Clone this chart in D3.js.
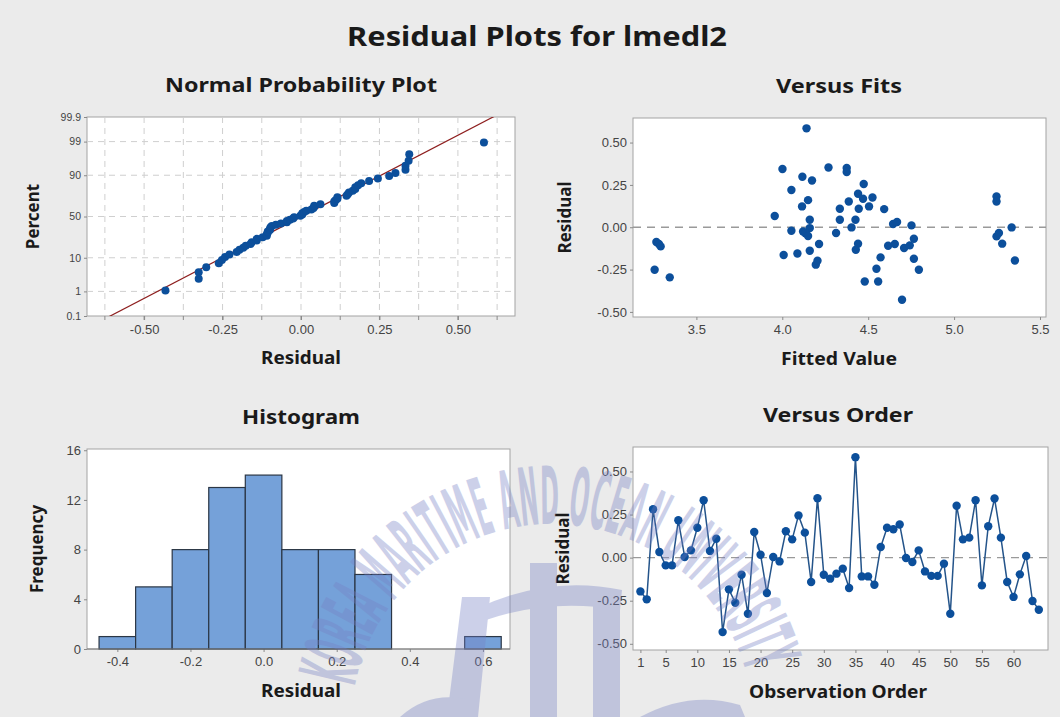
<!DOCTYPE html>
<html>
<head>
<meta charset="utf-8">
<script src="https://cdn.jsdelivr.net/npm/d3@7"></script>
<style>
  body { margin: 0; background: #ebebeb; }
  svg { display: block; font-family: "Noto Sans", "DejaVu Sans", sans-serif; }
  .tick text { fill: #444; font-size: 13px; }
  .tick line { stroke: #8a8a8a; }
  .ttl { font-weight: bold; fill: #1a1a1a; text-anchor: middle; }
</style>
</head>
<body>
<svg id="chart" width="1060" height="717"></svg>
<script>
// residuals in observation order (1..64)
const residuals = [
  -0.196, -0.242, 0.281, 0.033, -0.045, -0.045, 0.217, 0.004, 0.042, 0.173,
  0.333, 0.039, 0.110, -0.432, -0.184, -0.262, -0.099, -0.326, 0.149, 0.017,
  -0.205, 0.004, -0.022, 0.153, 0.106, 0.245, 0.145, -0.141, 0.345, -0.099,
  -0.122, -0.093, -0.064, -0.176, 0.583, -0.109, -0.109, -0.157, 0.062, 0.173,
  0.165, 0.192, -0.002, -0.025, 0.042, -0.080, -0.106, -0.106, -0.035, -0.326,
  0.301, 0.106, 0.116, 0.333, -0.161, 0.182, 0.343, 0.116, -0.141, -0.228,
  -0.097, 0.010, -0.252, -0.302
];

// versus fits: fitted value and residual for each point
const fittedValues = [
  3.257, 3.267, 3.282, 3.292, 3.345, 3.956, 4.001, 4.008, 4.053, 4.053,
  4.088, 4.117, 4.115, 4.150, 4.141, 4.160, 4.160, 4.173, 4.121, 4.135,
  4.150, 4.160, 4.195, 4.205, 4.214, 4.269, 4.313, 4.335, 4.335, 4.375,
  4.375, 4.387, 4.403, 4.441, 4.474, 4.470, 4.445, 4.426, 4.441, 4.428,
  4.505, 4.525, 4.593, 4.480, 4.558, 4.548, 4.572, 4.616, 4.655, 4.645,
  4.668, 4.697, 4.709, 4.742, 4.752, 4.766, 4.766, 4.795, 5.247, 5.247,
  5.247, 5.261, 5.280, 5.335, 5.354
];
const fittedResiduals = [
  -0.251, -0.087, -0.099, -0.113, -0.296, 0.066, 0.344, -0.164, 0.220, -0.021,
  -0.155, 0.298, 0.123, 0.160, 0.584, 0.044, -0.005, 0.276, -0.025, -0.035,
  -0.052, -0.139, -0.221, -0.198, -0.099, 0.353, -0.034, 0.109, 0.044, 0.350,
  0.326, 0.152, -0.001, 0.198, 0.255, 0.168, 0.109, 0.044, -0.097, -0.133,
  0.123, 0.176, 0.107, -0.320, -0.320, -0.245, -0.178, -0.109, -0.099, 0.019,
  0.031, -0.428, -0.123, -0.107, 0.011, -0.068, -0.186, -0.251, 0.182, 0.152,
  -0.054, -0.034, -0.097, -0.001, -0.196
];

// histogram bins (centre, width 0.1) and counts
const histCenters = [-0.4, -0.3, -0.2, -0.1, 0.0, 0.1, 0.2, 0.3, 0.4, 0.5, 0.6];
const histCounts = [1, 5, 8, 13, 14, 8, 8, 6, 0, 0, 1];
const binWidth = 0.1;

const percentTicks = [0.1, 1, 10, 50, 90, 99, 99.9];
const percentGrid = [1, 10, 50, 90, 99];
const nppTicks = [-0.5, -0.25, 0, 0.25, 0.5];
const fitTicks = [3.5, 4.0, 4.5, 5.0, 5.5];
const histTicks = [-0.4, -0.2, 0, 0.2, 0.4, 0.6];
const freqTicks = [0, 4, 8, 12, 16];
const orderTicks = [1, 5, 10, 15, 20, 25, 30, 35, 40, 45, 50, 55, 60];
const resTicks = [-0.5, -0.25, 0, 0.25, 0.5];

const dotColor = "#0c4f9b";

// inverse of the normal cdf (Acklam's approximation)
function qnorm(p) {
    const a = [-39.69683028665376, 220.9460984245205, -275.9285104469687, 138.357751867269, -30.66479806614716, 2.506628277459239];
    const b = [-54.47609879822406, 161.5858368580409, -155.6989798598866, 66.80131188771972, -13.28068155288572];
    const c = [-0.007784894002430293, -0.3223964580411365, -2.400758277161838, -2.549732539343734, 4.374664141464968, 2.938163982698783];
    const d = [0.007784695709041462, 0.3224671290700398, 2.445134137142996, 3.754408661907416];
    const pl = 0.02425;
    let q, r;
    if (p < pl) {
        q = Math.sqrt(-2 * Math.log(p));
        return (((((c[0]*q+c[1])*q+c[2])*q+c[3])*q+c[4])*q+c[5]) / ((((d[0]*q+d[1])*q+d[2])*q+d[3])*q+1);
    }
    if (p > 1 - pl) {
        q = Math.sqrt(-2 * Math.log(1 - p));
        return -(((((c[0]*q+c[1])*q+c[2])*q+c[3])*q+c[4])*q+c[5]) / ((((d[0]*q+d[1])*q+d[2])*q+d[3])*q+1);
    }
    q = p - 0.5; r = q * q;
    return (((((a[0]*r+a[1])*r+a[2])*r+a[3])*r+a[4])*r+a[5])*q / (((((b[0]*r+b[1])*r+b[2])*r+b[3])*r+b[4])*r+1);
}

const svg = d3.select("#chart");
svg.append("rect").attr("width", 1060).attr("height", 717).attr("fill", "#ebebeb");

svg.append("text").attr("class", "ttl")
    .attr("x", 537).attr("y", 46)
    .attr("textLength", 380).attr("lengthAdjust", "spacingAndGlyphs")
    .style("font-size", "26px")
    .text("Residual Plots for lmedl2");

// one panel: frame, title, axis labels
const makePanel = (p) => {
    let g = svg.append("g").attr("transform", "translate(" + p.left + "," + p.top + ")");
    g.append("rect").attr("width", p.w).attr("height", p.h)
        .attr("fill", "#fff").attr("stroke", "#a3a3a3");
    g.append("clipPath").attr("id", p.id)
        .append("rect").attr("width", p.w).attr("height", p.h);
    svg.append("text").attr("class", "ttl")
        .attr("x", p.cx).attr("y", p.top - 25)
        .attr("textLength", p.tw).attr("lengthAdjust", "spacingAndGlyphs")
        .style("font-size", "20px").text(p.title);
    svg.append("text").attr("class", "ttl")
        .attr("x", p.cx).attr("y", p.top + p.h + 48)
        .attr("textLength", p.xw).attr("lengthAdjust", "spacingAndGlyphs")
        .style("font-size", "17px").text(p.xLabel);
    svg.append("text").attr("class", "ttl")
        .attr("transform", "translate(" + p.yx + "," + (p.top + p.h / 2) + ") rotate(-90)")
        .style("font-size", "17px").text(p.yLabel);
    return g;
}

const noDomain = (sel) => sel.select(".domain").remove();

// ---- Normal probability plot ----
{
    let w = 428, h = 199;
    let g = makePanel({ id: "c1", left: 87, top: 117, w, h, cx: 301,
        title: "Normal Probability Plot", tw: 272,
        xLabel: "Residual", xw: 80, yLabel: "Percent", yx: 39 });
    let x = d3.scaleLinear().domain([-0.682, 0.682]).range([0, w]);
    let z = d3.scaleLinear().domain([qnorm(0.001), qnorm(0.999)]).range([h, 0]);
    let y = (pc) => z(qnorm(pc / 100));
    let minor = d3.range(-5, 6).map(k => k * 0.125);

    g.selectAll(".vg").data(minor).enter().append("line")
        .attr("x1", d => x(d)).attr("x2", d => x(d)).attr("y1", 0).attr("y2", h)
        .attr("stroke", "#cfcfcf").attr("stroke-dasharray", "6,5");
    g.selectAll(".hg").data(percentGrid).enter().append("line")
        .attr("x1", 0).attr("x2", w).attr("y1", d => y(d)).attr("y2", d => y(d))
        .attr("stroke", "#cfcfcf").attr("stroke-dasharray", "6,5");

    g.append("g").attr("transform", "translate(0," + h + ")")
        .call(d3.axisBottom(x).tickValues(nppTicks).tickSize(4).tickPadding(5)
            .tickFormat(d => d.toFixed(2)))
        .call(noDomain);
    g.selectAll(".mt").data(minor).enter().append("line")
        .attr("x1", d => x(d)).attr("x2", d => x(d)).attr("y1", h).attr("y2", h + 4)
        .attr("stroke", "#8a8a8a");

    let py = d3.scaleLinear().domain([0, h]).range([0, h]);
    g.append("g")
        .call(d3.axisLeft(py).tickValues(percentTicks.map(y)).tickSize(3).tickPadding(3)
            .tickFormat((d, i) => String(percentTicks[i])))
        .call(noDomain)
        .selectAll("text").style("font-size", "10.5px");

    let n = residuals.length;
    let sorted = residuals.slice().sort(d3.ascending);
    let pts = sorted.map((r, i) => ({ r: r, p: (i + 1 - 0.3) / (n + 0.4) * 100 }));
    let mean = d3.mean(residuals), sd = d3.deviation(residuals);

    g.append("g").attr("clip-path", "url(#c1)")
        .append("line")
        .attr("x1", x(mean + sd * -3.4)).attr("y1", z(-3.4))
        .attr("x2", x(mean + sd * 3.4)).attr("y2", z(3.4))
        .attr("stroke", "#8e1f1f").attr("stroke-width", 1.2);

    g.selectAll(".pt").data(pts).enter().append("circle")
        .attr("cx", d => x(d.r)).attr("cy", d => y(d.p)).attr("r", 4)
        .attr("fill", dotColor);
}

// ---- Versus fits ----
{
    let w = 413, h = 199;
    let g = makePanel({ id: "c2", left: 633, top: 118, w, h, cx: 839,
        title: "Versus Fits", tw: 126,
        xLabel: "Fitted Value", xw: 116, yLabel: "Residual", yx: 571 });
    let x = d3.scaleLinear().domain([3.131, 5.535]).range([0, w]);
    let y = d3.scaleLinear().domain([-0.53, 0.645]).range([h, 0]);

    g.append("g").attr("transform", "translate(0," + h + ")")
        .call(d3.axisBottom(x).tickValues(fitTicks).tickSize(3).tickPadding(5)
            .tickFormat(d => d.toFixed(1)))
        .call(noDomain);
    g.append("g")
        .call(d3.axisLeft(y).tickValues(resTicks).tickSize(3).tickPadding(3)
            .tickFormat(d => d.toFixed(2)))
        .call(noDomain);

    g.append("line").attr("x1", 0).attr("x2", w).attr("y1", y(0)).attr("y2", y(0))
        .attr("stroke", "#9a9a9a").attr("stroke-width", 1.3).attr("stroke-dasharray", "8,6");

    g.selectAll(".pt").data(fittedValues).enter().append("circle")
        .attr("cx", d => x(d)).attr("cy", (d, i) => y(fittedResiduals[i])).attr("r", 4.2)
        .attr("fill", dotColor);
}

// ---- Histogram ----
{
    let w = 423, h = 200;
    let g = makePanel({ id: "c3", left: 87, top: 449, w, h, cx: 301,
        title: "Histogram", tw: 118,
        xLabel: "Residual", xw: 80, yLabel: "Frequency", yx: 43 });
    let x = d3.scaleLinear().domain([-0.483, 0.674]).range([0, w]);
    let y = d3.scaleLinear().domain([0, 16.1]).range([h, 0]);

    g.append("g").attr("transform", "translate(0," + h + ")")
        .call(d3.axisBottom(x).tickValues(histTicks).tickSize(3).tickPadding(5)
            .tickFormat(d => d.toFixed(1)))
        .call(noDomain);
    g.append("g")
        .call(d3.axisLeft(y).tickValues(freqTicks).tickSize(3).tickPadding(3))
        .call(noDomain);

    let bins = histCounts.map((c, i) => ({ c: c, mid: histCenters[i] })).filter(b => b.c > 0);
    g.selectAll(".bar").data(bins).enter().append("rect")
        .attr("x", d => x(d.mid - binWidth / 2))
        .attr("width", d => x(d.mid + binWidth / 2) - x(d.mid - binWidth / 2))
        .attr("y", d => y(d.c)).attr("height", d => h - y(d.c))
        .attr("fill", "#75a1d9").attr("stroke", "#2b3645").attr("stroke-width", 1.2);
    g.append("line").attr("x1", 0).attr("x2", w).attr("y1", h).attr("y2", h).attr("stroke", "#7a7a7a");
}

// ---- Versus order ----
{
    let w = 415, h = 203;
    let g = makePanel({ id: "c4", left: 633, top: 447, w, h, cx: 838,
        title: "Versus Order", tw: 150,
        xLabel: "Observation Order", xw: 178, yLabel: "Residual", yx: 569 });
    let x = d3.scaleLinear().domain([-0.17, 65.45]).range([0, w]);
    let y = d3.scaleLinear().domain([-0.536, 0.642]).range([h, 0]);

    g.append("g").attr("transform", "translate(0," + h + ")")
        .call(d3.axisBottom(x).tickValues(orderTicks).tickSize(3).tickPadding(5))
        .call(noDomain);
    g.append("g")
        .call(d3.axisLeft(y).tickValues(resTicks).tickSize(3).tickPadding(3)
            .tickFormat(d => d.toFixed(2)))
        .call(noDomain);

    g.append("line").attr("x1", 0).attr("x2", w).attr("y1", y(0)).attr("y2", y(0))
        .attr("stroke", "#9a9a9a").attr("stroke-width", 1.3).attr("stroke-dasharray", "8,6");

    let line = d3.line().x((d, i) => x(i + 1)).y(d => y(d));
    g.append("path").datum(residuals)
        .attr("fill", "none").attr("stroke", "#24548a").attr("stroke-width", 1.5)
        .attr("d", line);
    g.selectAll(".pt").data(residuals).enter().append("circle")
        .attr("cx", (d, i) => x(i + 1)).attr("cy", d => y(d)).attr("r", 4.2)
        .attr("fill", dotColor);
}

// ---- faint watermark over the page ----
{
    let wm = svg.append("g").attr("fill", "#7580c4").attr("opacity", 0.36);
    let cx = 552, cy = 725, r = 201;
    let a0 = 191 * Math.PI / 180, a1 = 346 * Math.PI / 180;
    svg.append("defs").append("path").attr("id", "wmArc")
        .attr("d", "M" + (cx + r * Math.cos(a0)) + "," + (cy + r * Math.sin(a0)) +
            " A" + r + "," + r + " 0 0 1 " + (cx + r * Math.cos(a1)) + "," + (cy + r * Math.sin(a1)));
    wm.append("text")
        .style("font-family", "'Liberation Sans Narrow', 'DejaVu Sans Condensed', sans-serif")
        .style("font-weight", "bold").style("font-size", "80px")
        .append("textPath").attr("href", "#wmArc")
        .attr("textLength", 540).attr("lengthAdjust", "spacingAndGlyphs")
        .text("KOREA MARITIME AND OCEAN UNIVERSITY");
    // rough logo shapes
    wm.append("path").attr("d", "M447,717 L462,597 L490,597 L478,717 Z");
    wm.append("path").attr("d", "M480,607 Q550,575 622,590 L620,610 Q550,598 486,620 Z");
    wm.append("rect").attr("x", 530).attr("y", 563).attr("width", 27).attr("height", 154);
    wm.append("rect").attr("x", 593).attr("y", 605).attr("width", 27).attr("height", 112);
    wm.append("path").attr("d", "M400,717 Q430,690 470,700 L470,717 Z");
    wm.append("path").attr("d", "M640,717 Q690,690 740,705 L745,717 Z");
}
</script>
</body>
</html>
